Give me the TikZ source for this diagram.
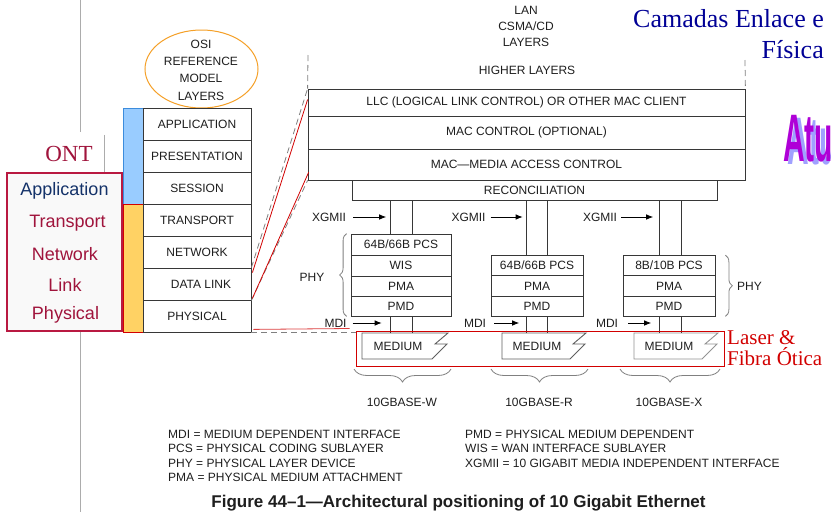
\documentclass[tikz,border=0pt]{standalone}
\usepackage{fontspec}
\setmainfont{Liberation Serif}
\setsansfont{Liberation Sans}
\usetikzlibrary{shapes.geometric,arrows.meta,decorations.pathreplacing,calc}
\definecolor{ln}{RGB}{55,55,55}
\definecolor{tx}{RGB}{30,30,30}
\definecolor{osiorange}{RGB}{245,160,40}
\definecolor{barblue}{RGB}{153,204,255}
\definecolor{barblueln}{RGB}{60,140,220}
\definecolor{barorange}{RGB}{255,210,100}
\definecolor{rd}{RGB}{210,0,0}
\definecolor{ontred}{RGB}{185,25,65}
\definecolor{onttext}{RGB}{160,20,60}
\definecolor{ontblue}{RGB}{20,50,105}
\definecolor{navy}{RGB}{0,0,150}
\definecolor{atupurple}{RGB}{175,0,215}
\definecolor{atushadow}{RGB}{160,160,255}
\tikzset{
  txt/.style={font=\sffamily\fontsize{12}{14}\selectfont, text=tx, inner sep=0pt},
  lbox/.style={draw=ln, line width=0.8pt, txt},
  osibox/.style={lbox, minimum width=108pt, minimum height=32pt},
  lanbox/.style={lbox, minimum width=437pt},
  c1box/.style={lbox, minimum width=100pt},
  c2box/.style={lbox, minimum width=92pt},
  onttxt/.style={font=\sffamily\fontsize{18}{20}\selectfont, inner sep=0pt},
  dsh/.style={draw=gray, line width=0.8pt, dash pattern=on 6pt off 4pt},
  redl/.style={draw=rd, line width=0.8pt},
  arr/.style={draw=black, line width=0.8pt, -{Latex[length=7pt,width=5.5pt]}},
  vl/.style={draw=ln, line width=0.8pt},
  medln/.style={draw=ln!80, line width=0.9pt},
  brc/.style={draw=gray, line width=0.8pt, decorate},
}
\begin{document}
\begin{tikzpicture}[x=1pt,y=-1pt]
\useasboundingbox (0,0) rectangle (831,512);
\fill[white] (0,0) rectangle (831,512);

% gray vertical line behind ONT
\coordinate (gtop) at (80,0);
\coordinate (gbot) at (80,512);
\draw[gray!65, line width=0.8pt] (gtop) -- (gbot);

% ONT label
\node[fill=white, minimum width=69pt, minimum height=41pt, inner sep=0pt] (ontlabel) at (69.5,152.5) {};
\draw[gray!65, line width=0.8pt] ($(ontlabel.north east)+(0,3)$) -- (ontlabel.south east);
\node[font=\fontsize{23}{25}\selectfont, text=onttext, inner sep=0pt] (ont) at (69,154) {ONT};

% ONT box
\node[draw=ontred, fill=gray!5, line width=1.2pt, minimum width=115pt, minimum height=158pt, inner sep=0pt] (ontbox) at (64.5,252) {};
\node[onttxt, text=ontblue] (o1) at (64.5,191) {Application};
\node[onttxt, text=onttext] (o2) at (67.5,223) {Transport};
\node[onttxt, text=onttext] (o3) at (65,254) {Network};
\node[onttxt, text=onttext] (o4) at (65,285) {Link};
\node[onttxt, text=onttext] (o5) at (65.5,315) {Physical};

% OSI ellipse
\node[ellipse, draw=osiorange, line width=1pt, minimum width=113pt, minimum height=78pt, inner sep=0pt] (osi) at (201.5,69) {};
\node[txt, align=center, font=\sffamily\fontsize{12}{17.3}\selectfont] (osit) at (201,70) {OSI\\REFERENCE\\MODEL\\LAYERS};

% colour bars
\node[draw=barblueln, fill=barblue, line width=1pt, minimum width=20pt, minimum height=96pt, inner sep=0pt] (bluebar) at (133,156) {};
\node[draw=rd, fill=barorange, line width=1pt, minimum width=20pt, minimum height=128pt, inner sep=0pt] (orbar) at (133,268) {};

% OSI layers
\node[osibox] (app) at (197,124) {APPLICATION};
\node[osibox] (pres) at (197,156) {PRESENTATION};
\node[osibox] (sess) at (197,188) {SESSION};
\node[osibox] (trans) at (197,220) {TRANSPORT};
\node[osibox] (net) at (197,252) {NETWORK};
\node[osibox] (dlink) at (197,284) {\hspace*{8pt}DATA LINK};
\node[osibox] (phys) at (197,316) {PHYSICAL};

% LAN title
\node[txt, align=center, font=\sffamily\fontsize{12}{16}\selectfont] (lan) at (526,26) {LAN\\CSMA/CD\\LAYERS};
\node[txt] (hl) at (527,70) {HIGHER LAYERS};

% LAN stack
\node[lanbox, minimum height=27pt] (llc) at (526.5,102.5) {LLC (LOGICAL LINK CONTROL) OR OTHER MAC CLIENT};
\node[lanbox, minimum height=33pt] (macc) at (526.5,132.5) {MAC CONTROL (OPTIONAL)};
\node[lanbox, minimum height=31pt] (mac) at (526.5,164.5) {MAC—MEDIA ACCESS CONTROL};
\node[lbox, minimum width=365pt, minimum height=20pt] (rec) at (534.5,190) {RECONCILIATION};

\coordinate (hlL) at (308,55);
\coordinate (hlR) at (745,60);
\draw[dsh] (hlL) -- (llc.north west);
\draw[dsh] (hlR) -- (llc.north east);

% connectors OSI -> LAN
\draw[dsh] (dlink.north east) -- (llc.north west);
\draw[dsh] (dlink.south east) -- (mac.south west);
\draw[redl] ($(dlink.north east)+(1,5)$) -- ($(llc.north west)+(0,11)$);
\draw[redl] ($(dlink.south east)+(1,-2)$) -- ($(mac.south west)+(1,-8)$);

% column 1 (10GBASE-W)
\node[c1box, minimum height=21pt] (pcs1) at (401,244.5) {64B/66B PCS};
\node[c1box, minimum height=21pt] (wis1) at (401,265.5) {WIS};
\node[c1box, minimum height=20pt] (pma1) at (401,286) {PMA};
\node[c1box, minimum height=20pt] (pmd1) at (401,306) {PMD};
% column 2 (10GBASE-R)
\node[c2box, minimum height=20pt] (pcs2) at (537,265.5) {64B/66B PCS};
\node[c2box, minimum height=21pt] (pma2) at (537,286) {PMA};
\node[c2box, minimum height=20pt] (pmd2) at (537,306) {PMD};
% column 3 (10GBASE-X)
\node[c2box, minimum height=20pt] (pcs3) at (669,265.5) {8B/10B PCS};
\node[c2box, minimum height=21pt] (pma3) at (669,286) {PMA};
\node[c2box, minimum height=20pt] (pmd3) at (669,306) {PMD};

% XGMII links
\draw[vl] ($(pcs1.north |- rec.south)+(-11,0)$) -- ($(pcs1.north)+(-11,0)$);
\draw[vl] ($(pcs1.north |- rec.south)+(11,0)$) -- ($(pcs1.north)+(11,0)$);
\draw[vl] ($(pcs2.north |- rec.south)+(-11,0)$) -- ($(pcs2.north)+(-11,0)$);
\draw[vl] ($(pcs2.north |- rec.south)+(10,0)$) -- ($(pcs2.north)+(10,0)$);
\draw[vl] ($(pcs3.north |- rec.south)+(-9.5,0)$) -- ($(pcs3.north)+(-9.5,0)$);
\draw[vl] ($(pcs3.north |- rec.south)+(12,0)$) -- ($(pcs3.north)+(12,0)$);

\node[txt] (xg1) at (329,217) {XGMII};
\node[txt] (xg2) at (468.5,217) {XGMII};
\node[txt] (xg3) at (600,217) {XGMII};
\draw[arr] ($(xg1.east)+(7,0)$) -- ($(xg1.east)+(40,0)$);
\draw[arr] ($(xg2.east)+(5,0)$) -- ($(xg2.east)+(37,0)$);
\draw[arr] ($(xg3.east)+(4,0)$) -- ($(xg3.east)+(36,0)$);

% PHY braces
\draw[brc, decoration={brace, amplitude=7pt}] ($(pmd1.south west)+(-4,0)$) -- ($(pcs1.north west)+(-4,0)$);
\node[txt] (phy1) at (312,277) {PHY};
\draw[brc, decoration={brace, amplitude=7pt}] ($(pcs3.north east)+(10,0)$) -- ($(pmd3.south east)+(10,0)$);
\node[txt] (phy3) at (749.5,286) {PHY};

% MEDIUM shapes
\draw[medln] (362,333) -- (448,333) -- (435,344) -- (447,344) -- (432,359) -- (362,359) -- cycle;
\draw[medln] (502,333) -- (586,333) -- (573,344) -- (585,344) -- (570,359) -- (502,359) -- cycle;
\draw[medln, draw=gray!85] (634,333) -- (718,333) -- (705,344) -- (717,344) -- (702,359) -- (634,359) -- cycle;
\node[txt] (med1) at (398,346) {MEDIUM};
\node[txt] (med2) at (537,346) {MEDIUM};
\node[txt] (med3) at (669,346) {MEDIUM};

% MDI links
\draw[vl] ($(pmd1.south)+(-11,0)$) -- ($(pmd1.south)+(-11,17)$);
\draw[vl] ($(pmd1.south)+(11,0)$) -- ($(pmd1.south)+(11,17)$);
\draw[vl] ($(pmd2.south)+(-11,0)$) -- ($(pmd2.south)+(-11,17)$);
\draw[vl] ($(pmd2.south)+(10,0)$) -- ($(pmd2.south)+(10,17)$);
\draw[vl] ($(pmd3.south)+(-9.5,0)$) -- ($(pmd3.south)+(-9.5,17)$);
\draw[vl] ($(pmd3.south)+(12,0)$) -- ($(pmd3.south)+(12,17)$);

\node[txt] (mdi1) at (335.5,323) {MDI};
\node[txt] (mdi2) at (475,323) {MDI};
\node[txt] (mdi3) at (607,323) {MDI};
\draw[arr] ($(mdi1.east)+(6,0)$) -- ($(mdi1.east)+(35,0)$);
\draw[arr] ($(mdi2.east)+(8,0)$) -- ($(mdi2.east)+(33,0)$);
\draw[arr] ($(mdi3.east)+(10,0)$) -- ($(mdi3.east)+(33,0)$);

% red box + physical connectors
\node[draw=rd, line width=1pt, minimum width=368pt, minimum height=35pt, inner sep=0pt] (redbox) at (540,348.5) {};
\draw[dsh] (phys.south east) -- (phys.south east -| redbox.north west);
\draw[redl, draw=rd!75] ($(phys.south east)+(2,-3)$) -- ($(redbox.north west)+(-6,-2)$);
\node[anchor=base west, font=\fontsize{21}{23}\selectfont, text=rd, inner sep=0pt] (laser) at (727,344) {Laser \&};
\node[anchor=base west, font=\fontsize{21}{23}\selectfont, text=rd, inner sep=0pt] (fibra) at (727,365.5) {Fibra Ótica};

% bottom braces
\draw[brc, decoration={brace, amplitude=13pt}] (451,369) -- (354,369);
\draw[brc, decoration={brace, amplitude=13pt}] (588,369) -- (491,369);
\draw[brc, decoration={brace, amplitude=13pt}] (720,369) -- (620,369);
\node[txt] (bw) at (402,402) {10GBASE-W};
\node[txt] (br) at (539,402) {10GBASE-R};
\node[txt] (bx) at (669,402) {10GBASE-X};

% legend
\node[txt, anchor=west] (lg1) at (168,434) {MDI = MEDIUM DEPENDENT INTERFACE};
\node[txt, anchor=west] (lg2) at (168,448.5) {PCS = PHYSICAL CODING SUBLAYER};
\node[txt, anchor=west] (lg3) at (168,463) {PHY = PHYSICAL LAYER DEVICE};
\node[txt, anchor=west] (lg4) at (168,477.5) {PMA = PHYSICAL MEDIUM ATTACHMENT};
\node[txt, anchor=west] (lg5) at (465,434) {PMD = PHYSICAL MEDIUM DEPENDENT};
\node[txt, anchor=west] (lg6) at (465,448.5) {WIS = WAN INTERFACE SUBLAYER};
\node[txt, anchor=west] (lg7) at (465,463) {XGMII = 10 GIGABIT MEDIA INDEPENDENT INTERFACE};

% caption
\node[font=\sffamily\bfseries\fontsize{17}{20}\selectfont, text=tx, inner sep=0pt] (cap) at (458.5,503) {Figure 44–1—Architectural positioning of 10 Gigabit Ethernet};

% title
\node[anchor=base east, font=\fontsize{26}{28}\selectfont, text=navy, inner sep=0pt] (t1) at (824,27) {Camadas Enlace e};
\node[anchor=base east, font=\fontsize{26}{28}\selectfont, text=navy, inner sep=0pt] (t2) at (824,58) {Física};

% WordArt (shadow and face in one text)
\node[anchor=base west, inner sep=0pt] (atu) at (783,161) {\fontsize{24}{24}\selectfont\sffamily\bfseries\scalebox{1.25}[2.8]{\rlap{\raisebox{-1.1pt}{\hspace*{3.5pt}\textcolor{atushadow}{Atu}}}\textcolor{atupurple}{Atu}}};
\end{tikzpicture}
\end{document}
